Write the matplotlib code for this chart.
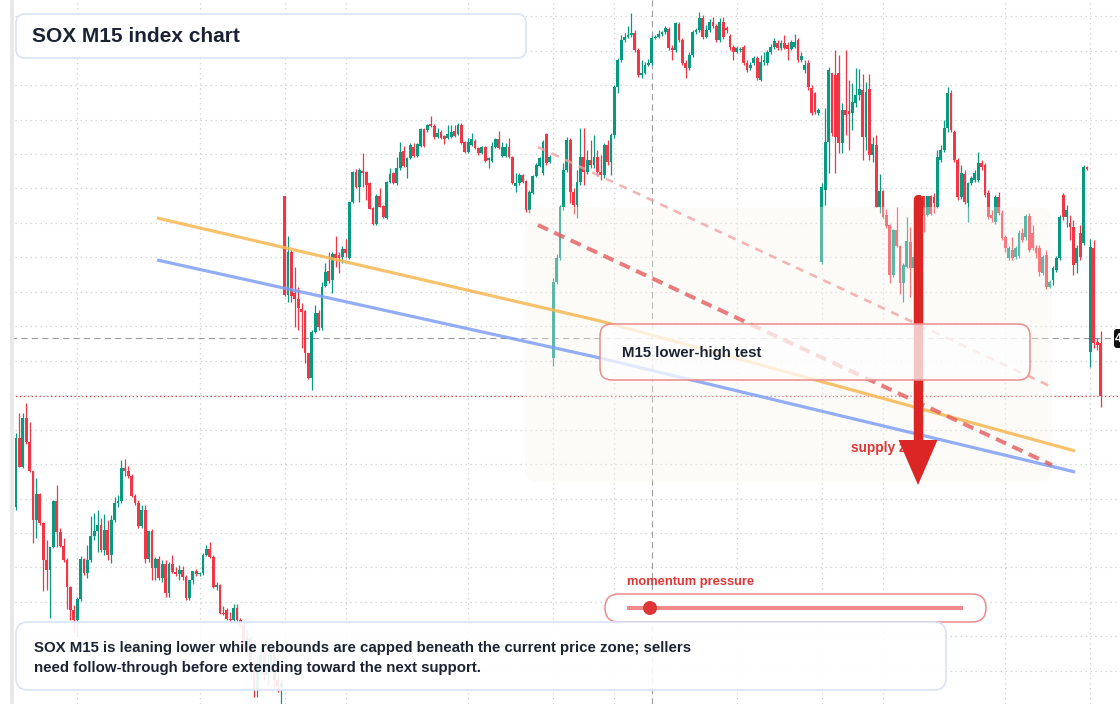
import numpy as np
import matplotlib
matplotlib.use("Agg")
import matplotlib.pyplot as plt
from matplotlib.patches import FancyBboxPatch, Polygon, Circle
from matplotlib.lines import Line2D
from matplotlib.transforms import Affine2D

plt.rcParams['font.family'] = ['Liberation Sans', 'DejaVu Sans']
plt.rcParams['lines.scale_dashes'] = False

# 15-minute candles, three sessions of 79 bars plus the current one
opens = [
    4493, 4562, 4533, 4582, 4558, 4529, 4480, 4506, 4477, 4440,
    4430, 4453, 4499, 4468, 4454, 4440, 4413, 4390, 4380, 4401,
    4441, 4427, 4440, 4464, 4469, 4475, 4450, 4470, 4445, 4480,
    4497, 4499, 4532, 4529, 4524, 4504, 4497, 4474, 4490, 4441,
    4469, 4432, 4441, 4422, 4436, 4407, 4436, 4428, 4426, 4430,
    4423, 4402, 4420, 4429, 4426, 4427, 4445, 4451, 4443, 4413,
    4415, 4387, 4390, 4381, 4380, 4392, 4380, 4375, 4355, 4362,
    4335, 4310, 4330, 4345, 4325, 4335, 4345, 4320, 4313,
    4804, 4705, 4748, 4707, 4701, 4691, 4689, 4647, 4622, 4668,
    4687, 4672, 4714, 4729, 4720, 4746, 4745, 4743, 4751, 4742,
    4798, 4828, 4813, 4829, 4828, 4817, 4792, 4776, 4804, 4794,
    4782, 4818, 4827, 4817, 4832, 4849, 4833, 4842, 4853, 4844,
    4854, 4871, 4870, 4876, 4874, 4863, 4868, 4864, 4862, 4863,
    4869, 4866, 4875, 4858, 4848, 4855, 4859, 4852, 4847, 4853,
    4840, 4839, 4853, 4861, 4844, 4844, 4853, 4843, 4814, 4817,
    4825, 4819, 4790, 4807, 4824, 4834, 4827, 4866, 4838,
    4642, 4718, 4742, 4793, 4830, 4860, 4808, 4795, 4818, 4843,
    4828, 4840, 4835, 4843, 4828, 4825, 4855, 4838, 4865, 4913,
    4940, 4960, 4963, 4965, 4967, 4950, 4925, 4927, 4935, 4937,
    4962, 4963, 4966, 4968, 4971, 4952, 4950, 4976, 4960, 4937,
    4932, 4945, 4968, 4970, 4982, 4963, 4970, 4978, 4974, 4960,
    4978, 4972, 4964, 4953, 4948, 4950, 4953, 4937, 4932, 4937,
    4942, 4920, 4938, 4937, 4948, 4953, 4957, 4952, 4957, 4955,
    4951, 4953, 4960, 4940, 4930, 4937, 4912, 4907, 4887,
    4738, 4810, 4858, 4927, 4925, 4927, 4857, 4890, 4889, 4887,
    4897, 4905, 4910, 4863, 4911, 4845, 4855, 4793, 4809, 4785,
    4775, 4725, 4770, 4754, 4717, 4733, 4758, 4732, 4743, 4775,
    4804, 4785, 4804, 4803, 4793, 4840, 4850, 4872, 4907, 4868,
    4840, 4803, 4826, 4797, 4817, 4820, 4820, 4837, 4835, 4807,
    4785, 4778, 4803, 4787, 4763, 4742, 4750, 4743, 4744, 4767,
    4763, 4784, 4767, 4752, 4752, 4727, 4745, 4713, 4720, 4730,
    4742, 4805, 4783, 4777, 4773, 4737, 4767, 4757, 4833, 4648,
    4752, 4658, 4657,
]
highs = [
    4567, 4587, 4587, 4597, 4578, 4529, 4522, 4507, 4478, 4460,
    4453, 4500, 4515, 4472, 4462, 4442, 4414, 4395, 4403, 4444,
    4442, 4455, 4484, 4487, 4490, 4482, 4486, 4480, 4485, 4503,
    4505, 4540, 4541, 4534, 4526, 4506, 4500, 4495, 4495, 4469,
    4471, 4443, 4444, 4440, 4440, 4438, 4445, 4433, 4435, 4434,
    4425, 4404, 4429, 4431, 4428, 4447, 4455, 4458, 4445, 4418,
    4416, 4394, 4392, 4388, 4396, 4396, 4382, 4377, 4370, 4364,
    4340, 4345, 4352, 4350, 4345, 4358, 4350, 4325, 4320,
    4804, 4764, 4750, 4733, 4713, 4697, 4690, 4647, 4670, 4695,
    4690, 4718, 4737, 4748, 4748, 4764, 4748, 4754, 4761, 4798,
    4829, 4831, 4832, 4847, 4829, 4818, 4793, 4806, 4812, 4795,
    4819, 4832, 4828, 4843, 4858, 4854, 4843, 4857, 4857, 4857,
    4872, 4872, 4876, 4884, 4876, 4872, 4870, 4865, 4875, 4875,
    4875, 4877, 4877, 4859, 4862, 4867, 4861, 4853, 4854, 4854,
    4843, 4858, 4862, 4869, 4858, 4857, 4862, 4844, 4827, 4827,
    4826, 4820, 4810, 4825, 4837, 4843, 4860, 4867, 4845,
    4722, 4746, 4795, 4837, 4863, 4862, 4812, 4830, 4872, 4872,
    4850, 4860, 4865, 4850, 4845, 4857, 4860, 4867, 4915, 4942,
    4965, 4967, 4974, 4987, 4970, 4952, 4940, 4938, 4941, 4964,
    4965, 4970, 4969, 4974, 4973, 4955, 4978, 4978, 4962, 4940,
    4948, 4970, 4972, 4988, 4985, 4975, 4981, 4983, 4976, 4982,
    4983, 4974, 4966, 4955, 4954, 4953, 4955, 4940, 4938, 4944,
    4944, 4945, 4948, 4950, 4956, 4962, 4960, 4960, 4965, 4958,
    4960, 4966, 4962, 4948, 4940, 4940, 4915, 4908, 4892,
    4817, 4892, 4933, 4927, 4950, 4945, 4897, 4950, 4920, 4917,
    4932, 4931, 4926, 4918, 4926, 4863, 4865, 4826, 4810, 4791,
    4776, 4771, 4793, 4755, 4737, 4783, 4773, 4750, 4780, 4805,
    4804, 4804, 4805, 4807, 4850, 4855, 4880, 4913, 4910, 4870,
    4842, 4835, 4830, 4818, 4824, 4830, 4848, 4840, 4837, 4810,
    4790, 4805, 4808, 4790, 4765, 4754, 4763, 4754, 4770, 4772,
    4786, 4787, 4775, 4755, 4755, 4745, 4750, 4720, 4734, 4744,
    4785, 4807, 4795, 4785, 4780, 4755, 4775, 4835, 4834, 4761,
    4760, 4662, 4669,
]
lows = [
    4490, 4533, 4532, 4556, 4528, 4457, 4462, 4475, 4409, 4410,
    4382, 4452, 4453, 4453, 4438, 4391, 4380, 4368, 4363, 4399,
    4425, 4422, 4438, 4460, 4448, 4448, 4445, 4440, 4437, 4478,
    4493, 4497, 4524, 4522, 4503, 4495, 4472, 4472, 4437, 4438,
    4420, 4420, 4420, 4418, 4403, 4403, 4427, 4424, 4420, 4420,
    4400, 4400, 4416, 4424, 4424, 4425, 4444, 4442, 4412, 4410,
    4386, 4385, 4380, 4378, 4378, 4379, 4373, 4350, 4345, 4320,
    4303, 4303, 4325, 4320, 4315, 4328, 4312, 4308, 4294,
    4704, 4698, 4698, 4673, 4670, 4652, 4637, 4621, 4610, 4667,
    4670, 4670, 4713, 4717, 4707, 4733, 4727, 4737, 4743, 4741,
    4797, 4812, 4798, 4813, 4800, 4791, 4775, 4775, 4793, 4782,
    4781, 4817, 4816, 4815, 4830, 4833, 4822, 4841, 4843, 4843,
    4853, 4853, 4868, 4873, 4861, 4862, 4861, 4856, 4861, 4862,
    4863, 4865, 4856, 4847, 4847, 4854, 4851, 4845, 4846, 4838,
    4832, 4838, 4852, 4851, 4843, 4843, 4842, 4816, 4808, 4815,
    4817, 4788, 4787, 4806, 4823, 4833, 4825, 4835, 4837,
    4634, 4716, 4740, 4790, 4828, 4797, 4786, 4782, 4815, 4815,
    4826, 4832, 4832, 4824, 4820, 4822, 4835, 4825, 4862, 4907,
    4938, 4958, 4962, 4963, 4948, 4923, 4922, 4926, 4934, 4935,
    4961, 4962, 4964, 4966, 4950, 4940, 4948, 4958, 4935, 4922,
    4930, 4943, 4966, 4968, 4961, 4962, 4968, 4972, 4958, 4958,
    4961, 4967, 4950, 4940, 4947, 4948, 4935, 4928, 4930, 4935,
    4920, 4919, 4935, 4935, 4946, 4951, 4950, 4950, 4951, 4940,
    4950, 4952, 4938, 4938, 4927, 4910, 4885, 4886, 4885,
    4736, 4795, 4827, 4864, 4827, 4847, 4847, 4865, 4850, 4870,
    4893, 4900, 4840, 4850, 4840, 4838, 4793, 4787, 4782, 4772,
    4717, 4723, 4753, 4706, 4698, 4732, 4703, 4730, 4738, 4770,
    4768, 4784, 4785, 4787, 4792, 4838, 4848, 4868, 4868, 4838,
    4800, 4801, 4796, 4778, 4815, 4818, 4818, 4830, 4803, 4781,
    4778, 4776, 4785, 4760, 4748, 4740, 4740, 4741, 4742, 4758,
    4760, 4748, 4750, 4742, 4724, 4725, 4711, 4712, 4715, 4728,
    4740, 4780, 4773, 4760, 4725, 4727, 4740, 4755, 4830, 4633,
    4652, 4650, 4593,
]
closes = [
    4562, 4533, 4582, 4558, 4529, 4480, 4506, 4477, 4440, 4430,
    4453, 4499, 4468, 4454, 4440, 4413, 4390, 4380, 4401, 4441,
    4427, 4440, 4464, 4469, 4475, 4450, 4470, 4445, 4480, 4497,
    4499, 4532, 4529, 4524, 4504, 4497, 4474, 4490, 4441, 4469,
    4432, 4441, 4422, 4436, 4407, 4436, 4428, 4426, 4430, 4423,
    4402, 4420, 4429, 4426, 4427, 4445, 4451, 4443, 4413, 4415,
    4387, 4386, 4381, 4380, 4392, 4380, 4375, 4355, 4362, 4335,
    4310, 4330, 4345, 4325, 4335, 4345, 4320, 4313, 4317,
    4705, 4748, 4704, 4701, 4692, 4688, 4647, 4622, 4668, 4687,
    4673, 4713, 4728, 4719, 4746, 4742, 4742, 4751, 4747, 4798,
    4828, 4813, 4830, 4827, 4815, 4791, 4776, 4804, 4793, 4783,
    4818, 4826, 4817, 4832, 4848, 4834, 4842, 4855, 4844, 4856,
    4871, 4854, 4875, 4874, 4863, 4867, 4862, 4861, 4866, 4868,
    4864, 4875, 4857, 4848, 4858, 4861, 4852, 4847, 4853, 4839,
    4842, 4854, 4861, 4852, 4853, 4853, 4843, 4817, 4817, 4825,
    4818, 4790, 4808, 4824, 4835, 4842, 4858, 4837, 4843,
    4718, 4742, 4793, 4830, 4860, 4808, 4795, 4818, 4843, 4828,
    4840, 4835, 4843, 4828, 4825, 4855, 4838, 4865, 4913, 4940,
    4960, 4963, 4965, 4967, 4950, 4925, 4927, 4935, 4937, 4962,
    4963, 4966, 4968, 4972, 4952, 4950, 4977, 4960, 4937, 4932,
    4945, 4968, 4970, 4982, 4963, 4970, 4978, 4974, 4960, 4978,
    4963, 4970, 4953, 4948, 4952, 4951, 4937, 4930, 4935, 4942,
    4922, 4938, 4940, 4948, 4953, 4959, 4952, 4957, 4952, 4951,
    4958, 4958, 4940, 4944, 4935, 4913, 4887, 4888, 4890,
    4813, 4858, 4930, 4867, 4863, 4857, 4890, 4885, 4886, 4898,
    4905, 4911, 4863, 4908, 4845, 4856, 4793, 4809, 4783, 4774,
    4725, 4770, 4754, 4717, 4735, 4759, 4732, 4743, 4775, 4795,
    4785, 4804, 4786, 4797, 4843, 4850, 4872, 4907, 4870, 4840,
    4803, 4827, 4798, 4817, 4822, 4827, 4837, 4833, 4805, 4783,
    4782, 4803, 4787, 4762, 4752, 4752, 4742, 4752, 4767, 4760,
    4784, 4750, 4752, 4747, 4728, 4743, 4713, 4718, 4732, 4742,
    4783, 4783, 4790, 4773, 4735, 4752, 4743, 4833, 4831, 4753,
    4657, 4655, 4604,
]

# time grid (bar index of session marks) and crosshair position
time_marks = [18, 54, 79, 97, 133, 158, 176, 212, 237, 255, 291, 316]
crosshair_bar = 187
crosshair_price = 4662

# drawn trend lines: (bar index, price)
orange_x, orange_y = [41.5, 171.8, 311.5], [4782, 4679, 4549]
blue_x, blue_y = [41.5, 171.8, 311.5], [4740, 4642, 4528]
red_x, red_y = [153.5, 304.7], [4775, 4535]
pink_x, pink_y = [153.5, 304.7], [4853, 4613]

title = "SOX M15 index chart"
note = ("SOX M15 is leaning lower while rebounds are capped beneath the current price zone; sellers\n"
        "need follow-through before extending toward the next support.")
GREEN, RED = '#089981', '#f23645'
INK = '#1b2333'

W, H = 1120, 704
fig = plt.figure(figsize=(W / 100, H / 100), dpi=100)
ax = fig.add_axes([0, 0, 1, 1])
# pixel space helper for the overlay widgets (y grows downward)
px = Affine2D().scale(1 / W, -1 / H).translate(0, 1) + fig.transFigure

o = np.array(opens, float)
hi = np.array(highs, float)
lo = np.array(lows, float)
c = np.array(closes, float)
x = np.arange(len(c))
col = np.where(c >= o, GREEN, RED)

ax.vlines(x, np.minimum(lo, np.minimum(o, c)), np.maximum(hi, np.maximum(o, c)),
          colors=col, linewidth=0.9, zorder=2)
ax.bar(x, np.maximum(np.abs(c - o), 1.2), bottom=np.minimum(o, c), width=0.84,
       color=col, linewidth=0, zorder=2.1)

ax.set_xlim(-16 / 3.4, (W - 16) / 3.4)
ax.set_ylim(5000 - H, 5000)
ax.set_xticks(time_marks)
ax.set_yticks(4983.8 - 34.45 * np.arange(20))
ax.tick_params(length=0, labelbottom=False, labelleft=False)
for s in ax.spines.values():
    s.set_visible(False)
ax.grid(True, color='#d2d2d2', linewidth=0.9, linestyle=(0, (1, 2.6)))
ax.set_axisbelow(True)

# crosshair and last price line
ax.axvline(crosshair_bar, color='#9a9a9a', lw=0.8, ls=(0, (4.5, 3)), zorder=1.5)
ax.axhline(crosshair_price, color='#9a9a9a', lw=0.8, ls=(0, (4.5, 3)), zorder=1.5)
ax.axhline(c[-1], color='#e0474c', lw=0.9, ls=(0, (1, 1.8)), zorder=1.6)


def box(x0, y0, x1, y1, r, fc, ec, lw, z):
    ax.add_patch(FancyBboxPatch((x0, y0), x1 - x0, y1 - y0,
                                boxstyle=f"round,pad=0,rounding_size={r}",
                                transform=px, facecolor=fc, edgecolor=ec,
                                linewidth=lw, zorder=z, clip_on=False))


# left price-scale strip
box(0, 0, 10, H, 0, 'white', 'none', 0, 2.5)
box(10, 0, 14, H, 0, '#e8e8e8', 'none', 0, 2.5)

# shaded supply zone
box(525, 207, 1052, 482, 14, (0.985, 0.955, 0.93, 0.35), 'none', 0, 3)

# trend lines
ax.plot(orange_x, orange_y, color='#f7b752', alpha=0.85, lw=2.3, zorder=4, solid_capstyle='butt')
ax.plot(blue_x, blue_y, color='#7f9ef5', alpha=0.85, lw=2.3, zorder=4, solid_capstyle='butt')
ax.plot(red_x, red_y, color='#e35d5d', alpha=0.8, lw=2.9, ls=(0, (8, 5)), zorder=4,
        dash_capstyle='butt')
ax.plot(pink_x, pink_y, color='#f2a2a2', alpha=0.8, lw=1.9, ls=(0, (5.8, 5)), zorder=4,
        dash_capstyle='butt')

# supply zone label and arrow
ax.text(851, 448, "supply zone", transform=px, color='#e03535', fontsize=9.8,
        fontweight='bold', ha='left', va='center', zorder=4.5)
ax.add_line(Line2D([918, 918], [199, 445], transform=px, color='#dc2626', lw=6.8,
                   solid_capstyle='round', zorder=5))
ax.add_patch(Polygon([(898.5, 440), (937.5, 440), (918, 485)], closed=True,
                     transform=px, facecolor='#dc2626', edgecolor='none', zorder=5))

# M15 callout
box(600, 324, 1030, 380, 12, (1, 1, 1, 0.74), '#ec8b8b', 1.1, 6)
ax.text(622, 353.5, "M15 lower-high test", transform=px, color=INK, fontsize=10.8,
        fontweight='bold', ha='left', va='center', zorder=7)

# title card
box(16, 14, 526, 58, 9, 'white', '#d6e2f6', 1.1, 6)
ax.text(32, 36, title, transform=px, color=INK, fontsize=15, fontweight='bold',
        ha='left', va='center', zorder=7)

# momentum gauge
ax.text(627, 582, "momentum pressure", transform=px, color='#e03535', fontsize=9.3,
        fontweight='bold', ha='left', va='center', zorder=7)
box(605, 594, 986, 622, 14, 'white', '#ec8b8b', 1.1, 6)
ax.add_line(Line2D([627, 963], [608, 608], transform=px, color='#ee8a8a', lw=2.9,
                   solid_capstyle='butt', zorder=7))
ax.add_patch(Circle((650, 608), 7, transform=px, facecolor='#e03535', edgecolor='none', zorder=7.5))

# commentary card
box(16, 622, 946, 690, 12, (1, 1, 1, 0.9), '#d6e2f6', 1.1, 6)
ax.text(34, 658, note, transform=px, color=INK, fontsize=10.8, fontweight='bold',
        ha='left', va='center', linespacing=1.6, zorder=7)

# price label on right edge
box(1114, 329, 1140, 348, 3, '#111111', 'none', 0, 8)
ax.text(1115, 338.5, "4", transform=px, color='white', fontsize=9, fontweight='bold',
        ha='left', va='center', zorder=9)

fig.savefig("out.png", dpi=100)
